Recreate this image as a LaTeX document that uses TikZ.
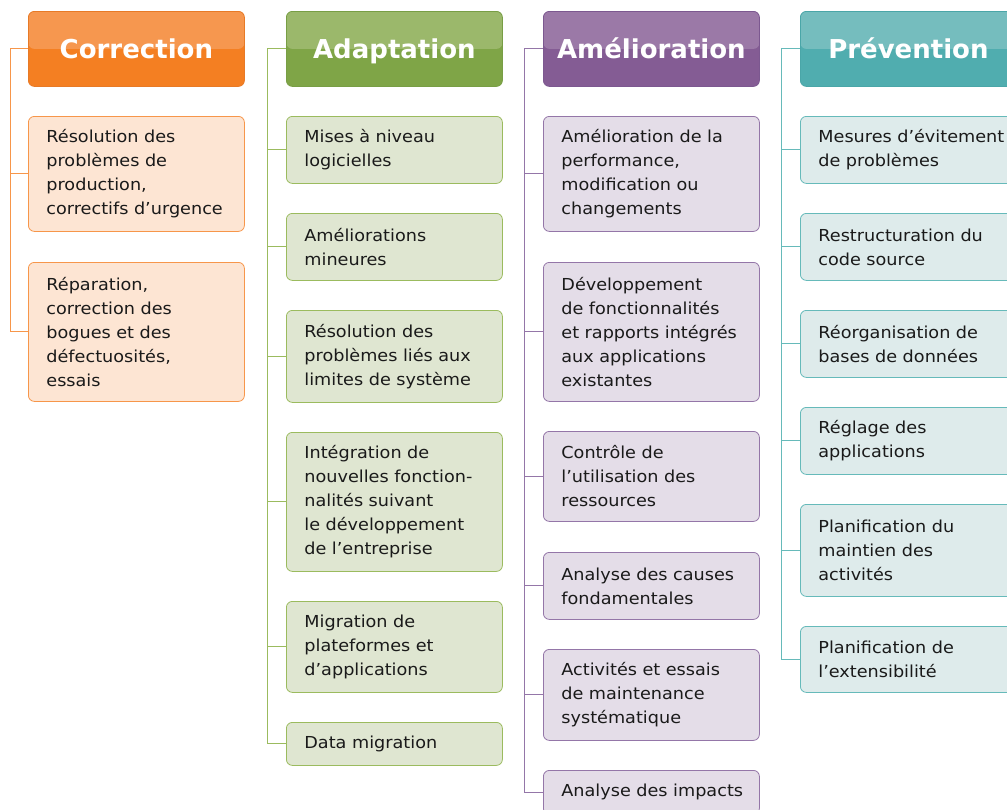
\documentclass[tikz,border=0pt]{standalone}
\usepackage{fontspec}
\setmainfont{DejaVu Sans}
\newfontfamily\bodyfam{DejaVu Sans}[FakeStretch=1.07]
\definecolor{CL}{HTML}{F6974F}\definecolor{CD}{HTML}{F47F22}\definecolor{CB}{HTML}{E77A27}
\definecolor{CF}{HTML}{FDE5D3}\definecolor{CE}{HTML}{F7964A}
\definecolor{AL}{HTML}{9BB86B}\definecolor{AD}{HTML}{7FA547}\definecolor{AB}{HTML}{789E45}
\definecolor{AF}{HTML}{DFE6D1}\definecolor{AE}{HTML}{9BBB5E}
\definecolor{ML}{HTML}{9B79A7}\definecolor{MD}{HTML}{845C94}\definecolor{MB}{HTML}{7C5890}
\definecolor{MF}{HTML}{E4DDE8}\definecolor{ME}{HTML}{9476A8}
\definecolor{PL}{HTML}{75BDBE}\definecolor{PD}{HTML}{50ADAF}\definecolor{PB}{HTML}{4AA6A8}
\definecolor{PF}{HTML}{DEEBEB}\definecolor{PE}{HTML}{66BABA}
\definecolor{txt}{HTML}{1A1A1A}
\newcommand\hdrfont{\fontsize{26}{30}\selectfont\bfseries}
\newcommand\bodyfont{\bodyfam\fontsize{16.5}{24}\selectfont\hyphenpenalty=10000\relax}
\tikzset{
  hdr/.style={rounded corners=6pt, draw=#1B, line width=0.8pt, fill=#1D,
    path picture={\fill[#1L] (path picture bounding box.north west) rectangle (path picture bounding box.east);},
    minimum width=216pt, minimum height=75pt, anchor=north west, text=white, font=\hdrfont,
    inner sep=0pt, text height=19.5pt, text depth=0pt},
  item/.style={rounded corners=6pt, draw=#1E, line width=0.8pt, fill=#1F, anchor=north west,
    text width=180pt, inner xsep=18pt, inner ysep=0pt, align=left, font=\bodyfont, text=txt},
  wide/.style={text width=200pt},
  conn/.style={draw=#1E, line width=0.9pt},
}
\begin{document}
\begin{tikzpicture}[x=1pt,y=-1pt]
\useasboundingbox (0,0) rectangle (1007,809);
\clip (0,0) rectangle (1007,809);
% Correction
\node[hdr=C] (hC) at (28,11) {Correction};
\node[item=C, minimum height=115pt] (C1) at (28,116) {Résolution~des\\problèmes~de\\production,\\correctifs~d’urgence};
\node[item=C, minimum height=139pt] (C2) at (28,262) {Réparation,\\correction~des\\bogues~et~des\\défectuosités,\\essais};
\coordinate (xC) at (10,0);
\draw[conn=C] (hC.west) -- (hC.west -| xC) |- (C2.west);
\draw[conn=C] (C1.west) -- (C1.west -| xC);
% Adaptation
\node[hdr=A] (hA) at (286,11) {Adaptation};
\node[item=A, minimum height=67pt] (A1) at (286,116) {Mises~à~niveau\\logicielles};
\node[item=A, minimum height=67pt] (A2) at (286,213) {Améliorations\\mineures};
\node[item=A, minimum height=92pt] (A3) at (286,310) {Résolution~des\\problèmes~liés~aux\\limites~de~système};
\node[item=A, minimum height=139pt] (A4) at (286,432) {Intégration~de\\nouvelles~fonction-\\nalités~suivant\\le~développement\\de~l’entreprise};
\node[item=A, minimum height=91pt] (A5) at (286,601) {Migration~de\\plateformes~et\\d’applications};
\node[item=A, minimum height=43pt] (A6) at (286,722) {Data~migration};
\coordinate (xA) at (267,0);
\draw[conn=A] (hA.west) -- (hA.west -| xA) |- (A6.west);
\foreach \n in {A1,A2,A3,A4,A5} \draw[conn=A] (\n.west) -- (\n.west -| xA);
% Amelioration
\node[hdr=M] (hM) at (543,11) {Amélioration};
\node[item=M, minimum height=115pt] (M1) at (543,116) {Amélioration~de~la\\performance,\\modification~ou\\changements};
\node[item=M, minimum height=139pt] (M2) at (543,262) {Développement\\de~fonctionnalités\\et~rapports~intégrés\\aux~applications\\existantes};
\node[item=M, minimum height=90pt] (M3) at (543,431) {Contrôle~de\\l’utilisation~des\\ressources};
\node[item=M, minimum height=67pt] (M4) at (543,552) {Analyse~des~causes\\fondamentales};
\node[item=M, minimum height=91pt] (M5) at (543,649) {Activités~et~essais\\de~maintenance\\systématique};
\node[item=M, minimum height=44pt] (M6) at (543,770) {Analyse~des~impacts};
\coordinate (xM) at (524,0);
\draw[conn=M] (hM.west) -- (hM.west -| xM) |- (M6.west);
\foreach \n in {M1,M2,M3,M4,M5} \draw[conn=M] (\n.west) -- (\n.west -| xM);
% Prevention
\node[hdr=P] (hP) at (800,11) {Prévention};
\node[item=P, wide, minimum height=67pt] (P1) at (800,116) {Mesures~d’évitement\\de~problèmes};
\node[item=P, wide, minimum height=67pt] (P2) at (800,213) {Restructuration~du\\code~source};
\node[item=P, wide, minimum height=67pt] (P3) at (800,310) {Réorganisation~de\\bases~de~données};
\node[item=P, wide, minimum height=67pt] (P4) at (800,407) {Réglage~des\\applications};
\node[item=P, wide, minimum height=92pt] (P5) at (800,504) {Planification~du\\maintien~des\\activités};
\node[item=P, wide, minimum height=66pt] (P6) at (800,626) {Planification~de\\l’extensibilité};
\coordinate (xP) at (781,0);
\draw[conn=P] (hP.west) -- (hP.west -| xP) |- (P6.west);
\foreach \n in {P1,P2,P3,P4,P5} \draw[conn=P] (\n.west) -- (\n.west -| xP);
\end{tikzpicture}
\end{document}
